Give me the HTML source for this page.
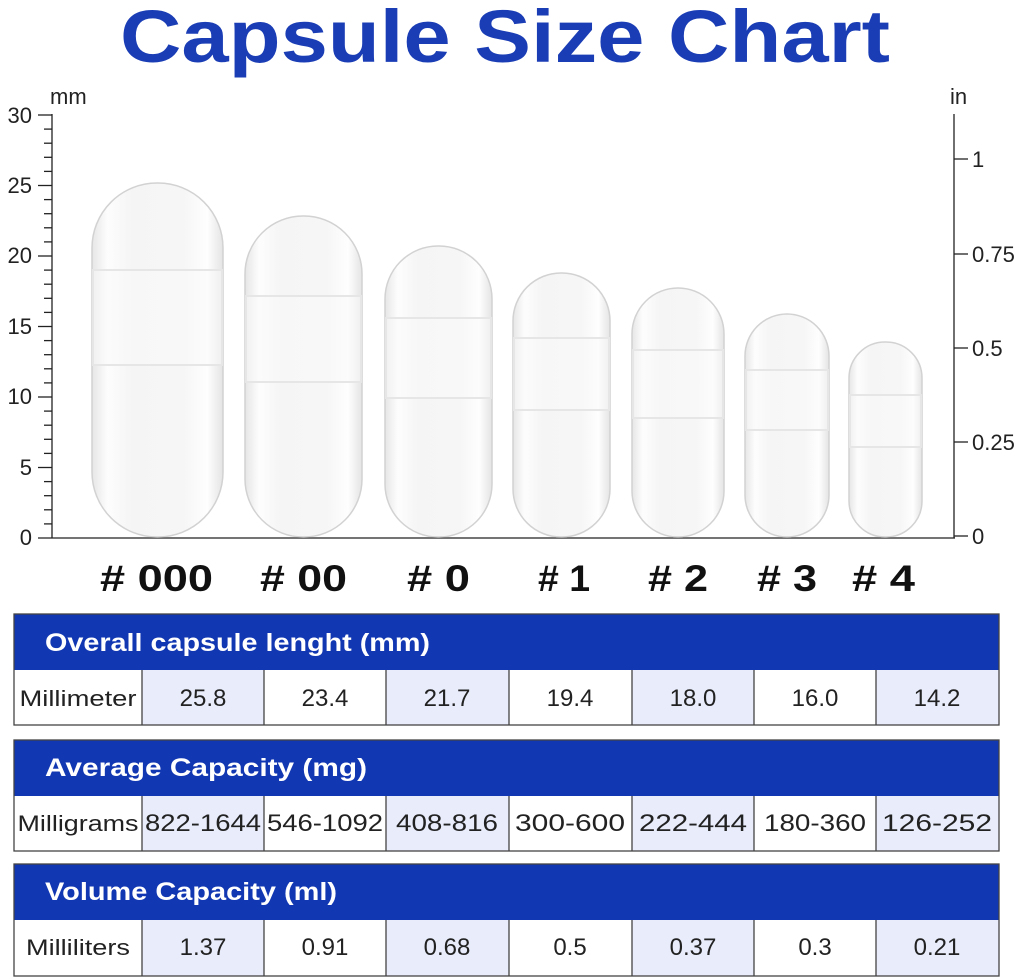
<!DOCTYPE html>
<html><head><meta charset="utf-8"><style>
body{margin:0;width:1024px;height:978px;background:#fff;overflow:hidden;font-family:"Liberation Sans",sans-serif;}
svg{position:absolute;left:0;top:0}
</style></head><body>
<svg width="1024" height="978" viewBox="0 0 1024 978" font-family="Liberation Sans, sans-serif">
<defs>
<linearGradient id="g" x1="0" x2="1" y1="0" y2="0">
<stop offset="0" stop-color="#e6e6e6"/><stop offset="0.12" stop-color="#fdfdfd"/><stop offset="0.3" stop-color="#f5f5f5"/><stop offset="0.7" stop-color="#f6f6f6"/><stop offset="0.88" stop-color="#fefefe"/><stop offset="1" stop-color="#e4e4e4"/>
</linearGradient>
</defs>
<text x="120" y="62" font-size="74" font-weight="bold" fill="#1a3db5" textLength="770" lengthAdjust="spacingAndGlyphs">Capsule Size Chart</text>
<g stroke="#222" stroke-width="1.3">
<line x1="52" y1="114" x2="52" y2="538"/>
<line x1="38" y1="538" x2="955" y2="538"/>
<line x1="954" y1="114" x2="954" y2="538"/>
<line x1="38" y1="115" x2="52" y2="115"/><line x1="44" y1="129.1" x2="52" y2="129.1"/><line x1="44" y1="143.2" x2="52" y2="143.2"/><line x1="44" y1="157.3" x2="52" y2="157.3"/><line x1="44" y1="171.4" x2="52" y2="171.4"/>
<line x1="38" y1="185.5" x2="52" y2="185.5"/><line x1="44" y1="199.6" x2="52" y2="199.6"/><line x1="44" y1="213.7" x2="52" y2="213.7"/><line x1="44" y1="227.8" x2="52" y2="227.8"/><line x1="44" y1="241.9" x2="52" y2="241.9"/>
<line x1="38" y1="256" x2="52" y2="256"/><line x1="44" y1="270.1" x2="52" y2="270.1"/><line x1="44" y1="284.2" x2="52" y2="284.2"/><line x1="44" y1="298.3" x2="52" y2="298.3"/><line x1="44" y1="312.4" x2="52" y2="312.4"/>
<line x1="38" y1="326.5" x2="52" y2="326.5"/><line x1="44" y1="340.6" x2="52" y2="340.6"/><line x1="44" y1="354.7" x2="52" y2="354.7"/><line x1="44" y1="368.8" x2="52" y2="368.8"/><line x1="44" y1="382.9" x2="52" y2="382.9"/>
<line x1="38" y1="397" x2="52" y2="397"/><line x1="44" y1="411.1" x2="52" y2="411.1"/><line x1="44" y1="425.2" x2="52" y2="425.2"/><line x1="44" y1="439.3" x2="52" y2="439.3"/><line x1="44" y1="453.4" x2="52" y2="453.4"/>
<line x1="38" y1="467.5" x2="52" y2="467.5"/><line x1="44" y1="481.6" x2="52" y2="481.6"/><line x1="44" y1="495.7" x2="52" y2="495.7"/><line x1="44" y1="509.8" x2="52" y2="509.8"/><line x1="44" y1="523.9" x2="52" y2="523.9"/>
<line x1="954" y1="159" x2="968" y2="159"/><line x1="954" y1="254" x2="968" y2="254"/><line x1="954" y1="348" x2="968" y2="348"/><line x1="954" y1="442" x2="968" y2="442"/><line x1="954" y1="536" x2="968" y2="536"/>
</g>
<g font-size="22" fill="#222">
<text x="50" y="104">mm</text><text x="950" y="104">in</text>
<g text-anchor="end"><text x="32" y="123">30</text><text x="32" y="193">25</text><text x="32" y="263">20</text><text x="32" y="334">15</text><text x="32" y="404">10</text><text x="32" y="475">5</text><text x="32" y="545">0</text></g>
<text x="972" y="167">1</text><text x="972" y="262">0.75</text><text x="972" y="356">0.5</text><text x="972" y="450">0.25</text><text x="972" y="544">0</text>
</g>
<g stroke="#d2d2d2" stroke-width="1.5" fill="url(#g)">
<rect x="92" y="183" width="131" height="354" rx="65"/>
<rect x="245" y="216" width="117" height="321" rx="58"/>
<rect x="385" y="246" width="107" height="291" rx="53"/>
<rect x="513" y="273" width="97" height="264" rx="48"/>
<rect x="632" y="288" width="92" height="249" rx="46"/>
<rect x="745" y="314" width="84" height="223" rx="42"/>
<rect x="849" y="342" width="73" height="195" rx="36"/>
</g>
<g fill="#fafafa" stroke="#e6e6e6" stroke-width="2">
<rect x="93" y="270" width="129" height="95" fill-opacity="0.5"/>
<rect x="246" y="296" width="115" height="86" fill-opacity="0.5"/>
<rect x="386" y="318" width="105" height="80" fill-opacity="0.5"/>
<rect x="514" y="338" width="95" height="72" fill-opacity="0.5"/>
<rect x="633" y="350" width="90" height="68" fill-opacity="0.5"/>
<rect x="746" y="370" width="82" height="60" fill-opacity="0.5"/>
<rect x="850" y="395" width="71" height="52" fill-opacity="0.5"/>
</g>
<g font-size="37" font-weight="bold" fill="#111">
<text x="100" y="591" textLength="113" lengthAdjust="spacingAndGlyphs"># 000</text><text x="260" y="591" textLength="87" lengthAdjust="spacingAndGlyphs"># 00</text><text x="407" y="591" textLength="63" lengthAdjust="spacingAndGlyphs"># 0</text><text x="538" y="591" textLength="52" lengthAdjust="spacingAndGlyphs"># 1</text><text x="648" y="591" textLength="60" lengthAdjust="spacingAndGlyphs"># 2</text><text x="757" y="591" textLength="60" lengthAdjust="spacingAndGlyphs"># 3</text><text x="852" y="591" textLength="63" lengthAdjust="spacingAndGlyphs"># 4</text>
</g>
<g>
<rect x="14" y="614" width="985" height="56" fill="#1237b2"/>
<rect x="14" y="740" width="985" height="56" fill="#1237b2"/>
<rect x="14" y="864" width="985" height="56" fill="#1237b2"/>
<g fill="#e8ecfb">
<rect x="142" y="670" width="122" height="55"/><rect x="386" y="670" width="123" height="55"/><rect x="632" y="670" width="122" height="55"/><rect x="876" y="670" width="123" height="55"/>
<rect x="142" y="796" width="122" height="55"/><rect x="386" y="796" width="123" height="55"/><rect x="632" y="796" width="122" height="55"/><rect x="876" y="796" width="123" height="55"/>
<rect x="142" y="920" width="122" height="56"/><rect x="386" y="920" width="123" height="56"/><rect x="632" y="920" width="122" height="56"/><rect x="876" y="920" width="123" height="56"/>
</g>
<g stroke="#444" stroke-width="1.3" fill="none">
<rect x="14" y="614" width="985" height="111"/><rect x="14" y="740" width="985" height="111"/><rect x="14" y="864" width="985" height="112"/>
<path d="M142 670V725M264 670V725M386 670V725M509 670V725M632 670V725M754 670V725M876 670V725"/>
<path d="M142 796V851M264 796V851M386 796V851M509 796V851M632 796V851M754 796V851M876 796V851"/>
<path d="M142 920V976M264 920V976M386 920V976M509 920V976M632 920V976M754 920V976M876 920V976"/>
</g>
<g fill="#fff" font-size="25" font-weight="bold">
<text x="45" y="651" textLength="385" lengthAdjust="spacingAndGlyphs">Overall capsule lenght (mm)</text>
<text x="45" y="776" textLength="322" lengthAdjust="spacingAndGlyphs">Average Capacity (mg)</text>
<text x="45" y="900" textLength="292" lengthAdjust="spacingAndGlyphs">Volume Capacity (ml)</text>
</g>
<g fill="#222" font-size="24" text-anchor="middle">
<text x="78" y="706" font-size="22" textLength="117" lengthAdjust="spacingAndGlyphs">Millimeter</text><text x="203" y="706">25.8</text><text x="325" y="706">23.4</text><text x="447" y="706">21.7</text><text x="570" y="706">19.4</text><text x="693" y="706">18.0</text><text x="815" y="706">16.0</text><text x="937" y="706">14.2</text>
<text x="78" y="831" font-size="22" textLength="121" lengthAdjust="spacingAndGlyphs">Milligrams</text><text x="203" y="831" textLength="116" lengthAdjust="spacingAndGlyphs">822-1644</text><text x="325" y="831" textLength="116" lengthAdjust="spacingAndGlyphs">546-1092</text><text x="447" y="831" textLength="102" lengthAdjust="spacingAndGlyphs">408-816</text><text x="570" y="831" textLength="110" lengthAdjust="spacingAndGlyphs">300-600</text><text x="693" y="831" textLength="108" lengthAdjust="spacingAndGlyphs">222-444</text><text x="815" y="831" textLength="102" lengthAdjust="spacingAndGlyphs">180-360</text><text x="937" y="831" textLength="110" lengthAdjust="spacingAndGlyphs">126-252</text>
<text x="78" y="955" font-size="22" textLength="104" lengthAdjust="spacingAndGlyphs">Milliliters</text><text x="203" y="955">1.37</text><text x="325" y="955">0.91</text><text x="447" y="955">0.68</text><text x="570" y="955">0.5</text><text x="693" y="955">0.37</text><text x="815" y="955">0.3</text><text x="937" y="955">0.21</text>
</g>
</g>
</svg>
</body></html>
